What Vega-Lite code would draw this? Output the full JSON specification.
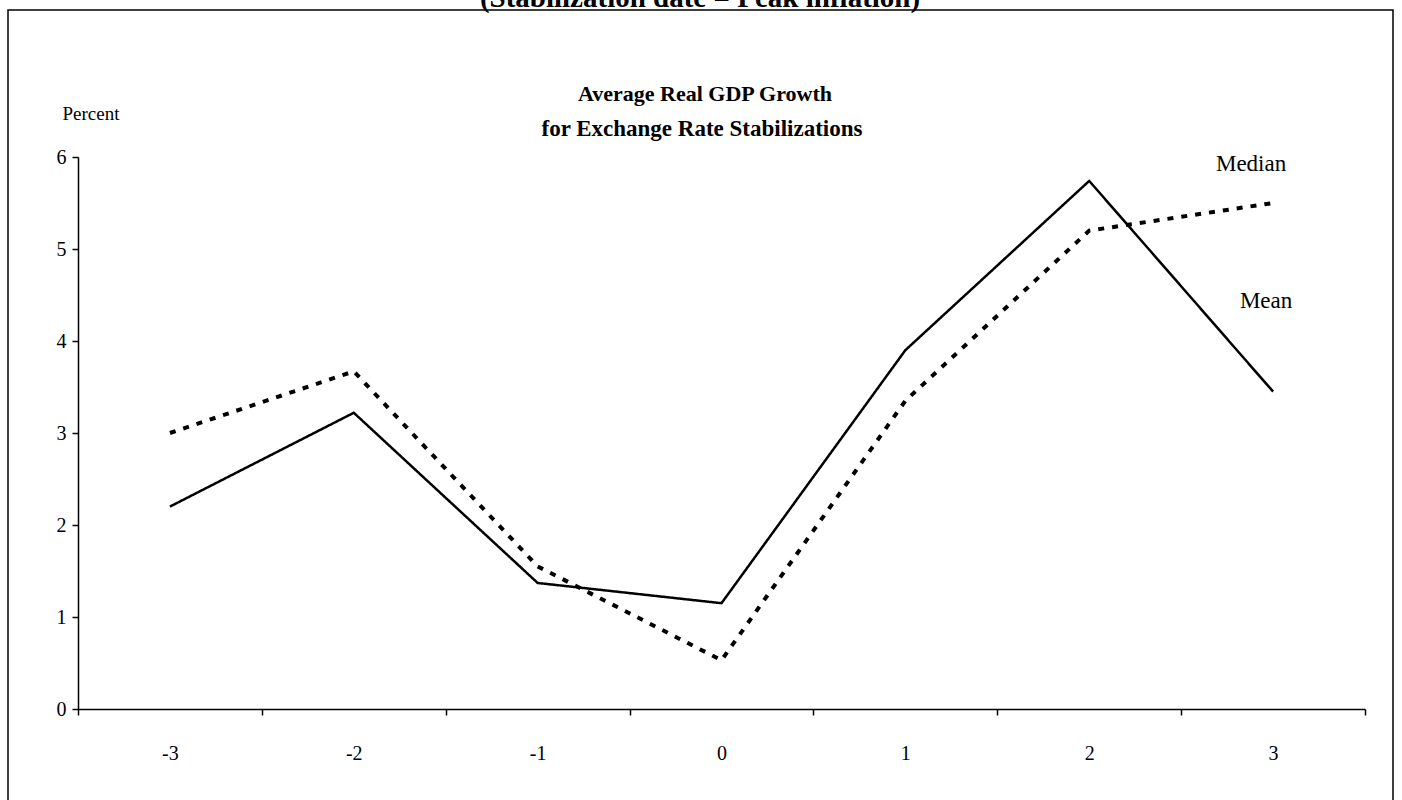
{
  "$schema": "https://vega.github.io/schema/vega-lite/v6.json",
  "autosize": {"type": "none"},
  "width": 1287,
  "height": 552,
  "padding": {"left": 78, "top": 157, "right": 37, "bottom": 91},
  "background": "white",
  "config": {
    "view": {"stroke": null},
    "font": "Liberation Serif",
    "axis": {"labelFont": "Liberation Serif", "titleFont": "Liberation Serif", "labelColor": "black", "titleColor": "black", "domainColor": "black", "tickColor": "black", "grid": false}
  },
  "layer": [
    {
      "data": {"values": [{"label": "(Stabilization date = Peak inflation)"}]},
      "mark": {"type": "text", "font": "Liberation Serif", "fontSize": 29, "fontWeight": "bold", "baseline": "alphabetic", "align": "center", "color": "black"},
      "encoding": {"text": {"field": "label"}, "x": {"value": 622}, "y": {"value": -150}}
    },
    {
      "data": {"values": [{"label": "Average Real GDP Growth"}]},
      "mark": {"type": "text", "font": "Liberation Serif", "fontSize": 22, "fontWeight": "bold", "baseline": "alphabetic", "align": "center", "color": "black"},
      "encoding": {"text": {"field": "label"}, "x": {"value": 627}, "y": {"value": -56}}
    },
    {
      "data": {"values": [{"label": "for Exchange Rate Stabilizations"}]},
      "mark": {"type": "text", "font": "Liberation Serif", "fontSize": 23, "fontWeight": "bold", "baseline": "alphabetic", "align": "center", "color": "black"},
      "encoding": {"text": {"field": "label"}, "x": {"value": 624}, "y": {"value": -21}}
    },
    {
      "data": {"values": [{"f": 1}]},
      "mark": {"type": "rect", "fill": null, "stroke": "black", "strokeWidth": 1.5},
      "encoding": {"x": {"value": -70}, "x2": {"value": 1315}, "y": {"value": -147}, "y2": {"value": 700}}
    },
    {
      "data": {"values": [
        {"t": -3, "series": "Mean", "value": 2.2},
        {"t": -2, "series": "Mean", "value": 3.22},
        {"t": -1, "series": "Mean", "value": 1.37},
        {"t": 0, "series": "Mean", "value": 1.15},
        {"t": 1, "series": "Mean", "value": 3.9},
        {"t": 2, "series": "Mean", "value": 5.74},
        {"t": 3, "series": "Mean", "value": 3.45},
        {"t": -3, "series": "Median", "value": 3.0},
        {"t": -2, "series": "Median", "value": 3.67},
        {"t": -1, "series": "Median", "value": 1.55},
        {"t": 0, "series": "Median", "value": 0.53},
        {"t": 1, "series": "Median", "value": 3.35},
        {"t": 2, "series": "Median", "value": 5.2},
        {"t": 3, "series": "Median", "value": 5.5}
      ]},
      "mark": {"type": "line", "color": "black"},
      "encoding": {
        "x": {"field": "t", "type": "ordinal", "bandPosition": 0.5,
              "scale": {"type": "band", "paddingInner": 0, "paddingOuter": 0},
              "axis": {"title": null, "labelAngle": 0, "tickBand": "extent", "tickSize": 6, "labelPadding": 28, "labelFontSize": 20, "domainWidth": 1.5, "tickWidth": 1.5}},
        "y": {"field": "value", "type": "quantitative",
              "scale": {"domain": [0, 6], "nice": false, "zero": true},
              "axis": {"title": "Percent", "format": "d", "titleAngle": 0, "titleAlign": "left", "titleBaseline": "alphabetic", "titleX": -16, "titleY": -38, "titleFontSize": 19, "titleFontWeight": "normal", "values": [0,1,2,3,4,5,6], "tickSize": 6, "labelPadding": 6, "labelFontSize": 20, "domainWidth": 1.5, "tickWidth": 1.5}},
        "strokeDash": {"field": "series", "type": "nominal", "scale": {"domain": ["Mean", "Median"], "range": [[1, 0], [6, 8]]}, "legend": null},
        "strokeWidth": {"field": "series", "type": "nominal", "scale": {"domain": ["Mean", "Median"], "range": [2.5, 4]}, "legend": null}
      }
    },
    {
      "data": {"values": [
        {"t": 3, "value": 5.92, "label": "Median"}
      ]},
      "mark": {"type": "text", "font": "Liberation Serif", "fontSize": 23, "color": "black", "align": "center", "baseline": "middle", "dx": -22},
      "encoding": {
        "x": {"field": "t", "type": "ordinal", "bandPosition": 0.5, "scale": {"type": "band", "domain": [-3, -2, -1, 0, 1, 2, 3], "paddingInner": 0, "paddingOuter": 0}},
        "y": {"field": "value", "type": "quantitative"},
        "text": {"field": "label"}
      }
    },
    {
      "data": {"values": [
        {"t": 3, "value": 4.44, "label": "Mean"}
      ]},
      "mark": {"type": "text", "font": "Liberation Serif", "fontSize": 23, "color": "black", "align": "center", "baseline": "middle", "dx": -7},
      "encoding": {
        "x": {"field": "t", "type": "ordinal", "bandPosition": 0.5, "scale": {"type": "band", "domain": [-3, -2, -1, 0, 1, 2, 3], "paddingInner": 0, "paddingOuter": 0}},
        "y": {"field": "value", "type": "quantitative"},
        "text": {"field": "label"}
      }
    }
  ]
}
